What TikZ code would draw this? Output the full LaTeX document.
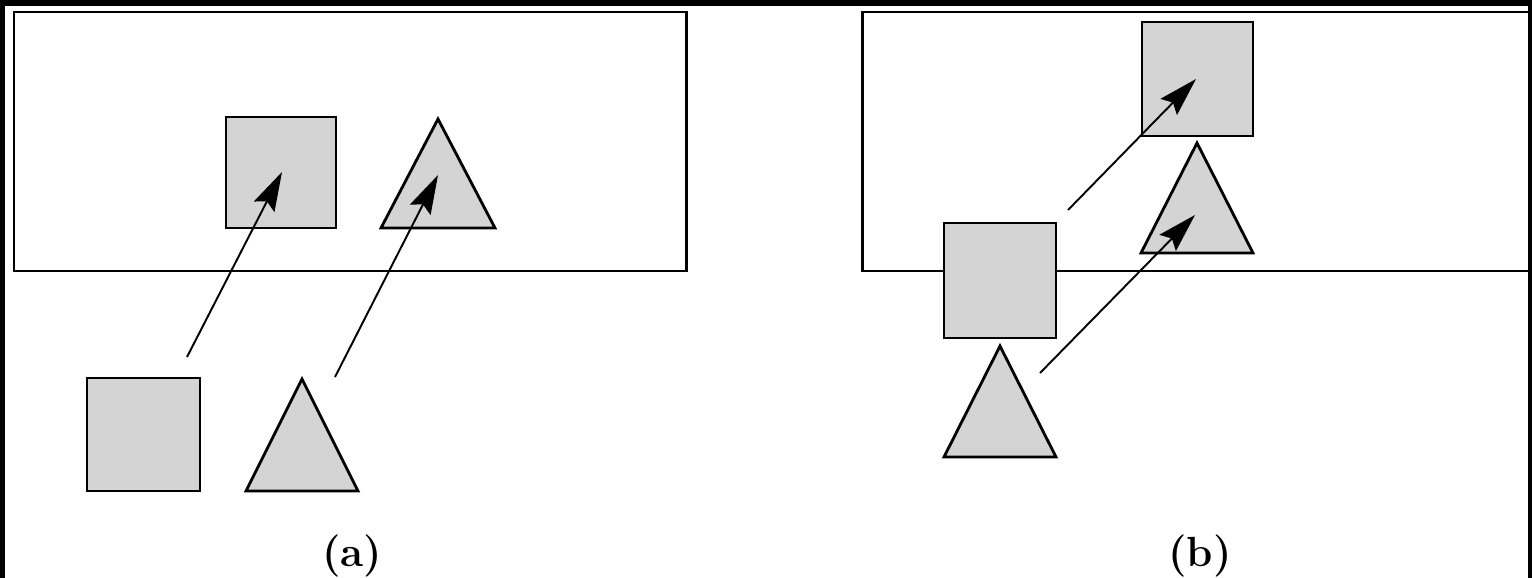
\documentclass[tikz,border=0pt]{standalone}
\usetikzlibrary{arrows.meta}
\definecolor{shapegray}{RGB}{212,212,212}
\tikzset{
  frame/.style={draw=black, line width=1.7pt},
  shapebox/.style={draw=black, fill=shapegray, line width=1.6pt, line join=miter},
  moveline/.style={draw=black, line width=1.1pt, -{Stealth[length=0.78cm, width=0.46cm, inset=0.12cm]}},
  caption/.style={font=\fontsize{24}{28}\selectfont\bfseries, inner sep=0pt, anchor=base}
}
\begin{document}
\begin{tikzpicture}[x=0.02cm, y=-0.02cm]
\useasboundingbox (0,0) rectangle (1532,578);
\fill[black] (0,0) rectangle (1532,578);
\fill[white] (5,6) rectangle (1528,578);
% ---------- (a) ----------
\draw[frame] (14,12) rectangle (686,271);
\draw[shapebox] (226,117) rectangle (336,228);
\draw[shapebox] (438,119) -- (495,228) -- (381,228) -- cycle;
\draw[shapebox] (87,378) rectangle (200,491);
\draw[shapebox] (302,379) -- (358,491) -- (246,491) -- cycle;
\coordinate (a1s) at (187,357);
\coordinate (a1t) at (282,172);
\coordinate (a2s) at (335,377);
\coordinate (a2t) at (438,175);
\draw[moveline] (a1s) -- (a1t);
\draw[moveline] (a2s) -- (a2t);
\node[caption] (capa) at (352,566) {(a)};
% ---------- (b) ----------
\draw[frame] (862,12) rectangle (1529,271);
\draw[shapebox] (1142,22) rectangle (1253,136);
\draw[shapebox] (1197,143) -- (1253,253) -- (1141,253) -- cycle;
\draw[shapebox] (944,223) rectangle (1056,338);
\draw[shapebox] (1000,346) -- (1056,457) -- (944,457) -- cycle;
\coordinate (b1s) at (1068,210);
\coordinate (b1t) at (1196,79);
\coordinate (b2s) at (1040,373);
\coordinate (b2t) at (1195,215);
\draw[moveline] (b1s) -- (b1t);
\draw[moveline] (b2s) -- (b2t);
\node[caption] (capb) at (1200,566) {(b)};
\end{tikzpicture}
\end{document}
